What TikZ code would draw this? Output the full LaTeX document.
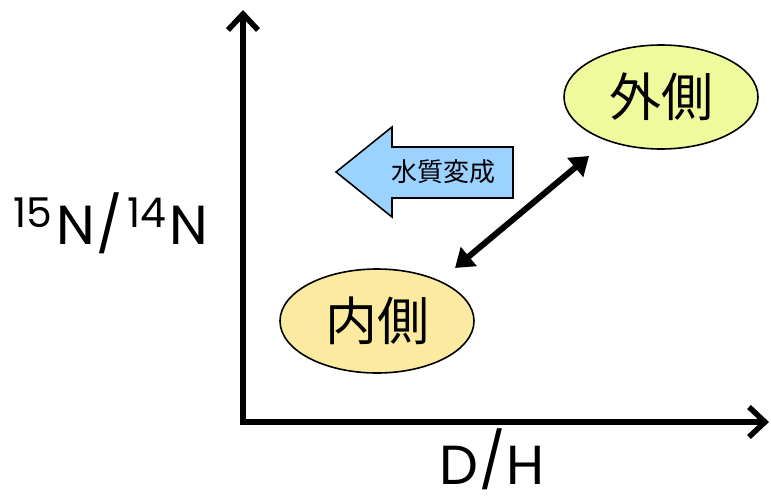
\documentclass[tikz,border=0pt]{standalone}
\usepackage{fontspec}
\setmainfont{Poppins}
\newfontfamily\cjk{Noto Sans CJK JP}
\usetikzlibrary{arrows.meta,shapes.geometric}
\definecolor{outerfill}{HTML}{EEFA9C}
\definecolor{innerfill}{HTML}{FCEAA0}
\definecolor{bluefill}{HTML}{9CD2FF}
\tikzset{
  axis/.style={line width=5.5pt, -{Straight Barb[length=16pt,width=30pt,line width=5.5pt]}},
  region/.style={ellipse, draw=black, line width=1.6pt, minimum width=194pt, minimum height=104pt, inner sep=0pt, font=\cjk\fontsize{52}{52}\selectfont},
  dbl/.style={line width=6pt, {Triangle[length=18pt,width=24pt]}-{Triangle[length=18pt,width=24pt]}},
  lbl/.style={font=\fontsize{55}{55}\selectfont, inner sep=0pt}
}
\newcommand{\supnum}[1]{\raisebox{17pt}{\fontsize{41}{41}\selectfont #1}}
\begin{document}
\begin{tikzpicture}[x=1pt,y=-1pt]
\useasboundingbox (0,0) rectangle (771,501);
\coordinate (O) at (243,422);
\coordinate (Ytop) at (243,10);
\coordinate (Xend) at (769,422);
\draw[axis] (O) -- (Ytop);
\draw[axis] ([xshift=-2.75pt]O) -- (Xend);
\node[region, fill=outerfill] (outer) at (661,97) {外側};
\node[region, fill=innerfill] (inner) at (377,321) {内側};
\coordinate (a1) at (455,268);
\coordinate (a2) at (589,156);
\draw[dbl] (a1) -- (a2);
\draw[fill=bluefill, line width=1.6pt] (336,172) -- (392,127) -- (392,147) -- (513,147) -- (513,198) -- (392,198) -- (392,217) -- cycle;
\node[font=\cjk\fontsize{26}{26}\selectfont, inner sep=0pt] (shift) at (443,172) {水質変成};
\node[lbl, anchor=base] (ylab) at (111,244) {\supnum{15}\hspace{4pt}N\hspace{2pt}/\hspace{4pt}\supnum{14}\hspace{4pt}N};
\node[lbl, anchor=base] (xlab) at (492,484) {D\hspace{1pt}\raisebox{4pt}{/}\hspace{1pt}H};
\end{tikzpicture}
\end{document}
